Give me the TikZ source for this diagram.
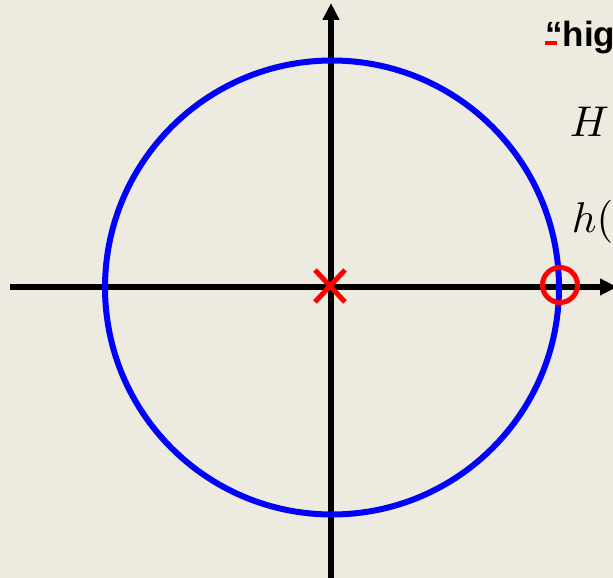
\documentclass[tikz,border=0pt]{standalone}
\usepackage{amsmath,amssymb}
\usepackage{fontspec}
\newfontfamily\titlefont{Liberation Sans}
\usetikzlibrary{arrows.meta}
\definecolor{paper}{RGB}{237,234,223}

\begin{document}
\begin{tikzpicture}[x=1pt, y=1pt, >={Triangle[length=17pt,width=16pt]}]
  \clip (0,0) rectangle (613,578);
  \fill[paper] (0,0) rectangle (613,578);
  \draw[line width=5.5pt, ->] (10,291) -- (617,291);
  \draw[line width=5.5pt, ->] (331,0) -- (331,575);
  \draw[blue, line width=6pt] (332,290.5) circle (227);
  \draw[red, line width=5pt] (315,276) -- (345,308) (315,308) -- (345,276);
  \draw[red, line width=5pt] (560,293) circle (17.5);
  \node[anchor=base west, inner sep=0pt, font=\titlefont\bfseries\fontsize{35}{40}\selectfont] (title) at (545,531)
    {\textcolor{red}{\rlap{\rule[2pt]{12pt}{4pt}}}“high-pass” filter};
  \node[anchor=base west, inner sep=0pt, scale=4.3] (Hs) at (569,441) {$H(s)$};
  \node[anchor=base west, inner sep=0pt, scale=4.3] (ht) at (571,345) {$h(t)$};
\end{tikzpicture}
\end{document}
